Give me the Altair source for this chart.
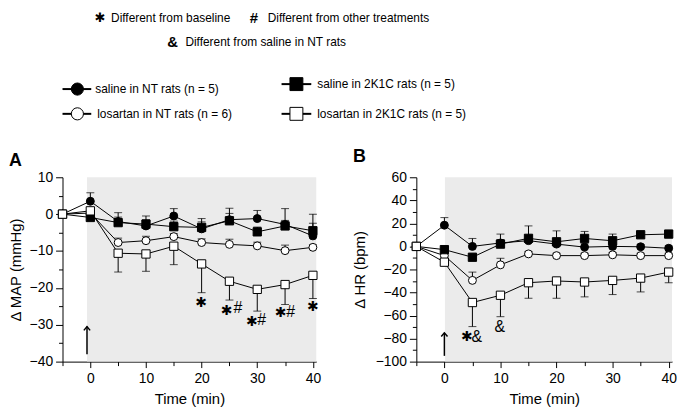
import altair as alt
import pandas as pd

FONT = "Liberation Sans"

# ---------------- data ----------------
times = [-5, 0, 5, 10, 15, 20, 25, 30, 35, 40]
series = ["saline in NT rats", "losartan in NT rats", "saline in 2K1C rats", "losartan in 2K1C rats"]
legend_labels = ["saline in NT rats (n = 5)", "losartan in NT rats (n = 6)",
                 "saline in 2K1C rats (n = 5)", "losartan in 2K1C rats (n = 5)"]
shapes = ["circle", "circle", "square", "square"]
fills = ["black", "white", "black", "white"]
err_dir = [1, 1, 1, -1]

# Panel A: delta MAP (mmHg)
map_saline_nt = [0, 3.5, -2.0, -3.2, -0.5, -4.0, -1.5, -1.2, -2.8, -5.9]
map_saline_nt_err = [0, 2.3, 2.4, 2.7, 2.0, 2.8, 3.1, 2.2, 4.3, 5.9]
map_losartan_nt = [0, 0.3, -7.7, -7.2, -6.1, -7.7, -8.2, -8.6, -9.9, -9.0]
map_losartan_nt_err = [0, 0.5, 1.2, 1.2, 0.8, 1.0, 1.4, 1.0, 1.5, 0.8]
map_saline_2k1c = [0, -0.9, -2.3, -2.7, -3.4, -3.6, -1.8, -4.8, -3.2, -4.5]
map_saline_2k1c_err = [0, 0.6, 1.5, 1.2, 1.5, 1.5, 2.0, 1.3, 1.5, 2.0]
map_losartan_2k1c = [0, 0.9, -10.6, -10.8, -8.7, -13.5, -18.2, -20.4, -19.1, -16.6]
map_losartan_2k1c_err = [0, 0.6, 5.1, 4.7, 5.0, 7.8, 5.1, 5.9, 5.4, 6.3]

# Panel B: delta HR (bpm)
hr_saline_nt = [0, 18.4, 0, 3.0, 5.0, 2.0, -0.6, 0.0, -0.3, -1.6]
hr_saline_nt_err = [0, 6.6, 6.9, 3.0, 3.0, 3.0, 3.0, 3.0, 2.0, 2.0]
hr_losartan_nt = [0, -8.0, -29.5, -16.0, -6.5, -8.0, -8.0, -7.3, -8.0, -8.0]
hr_losartan_nt_err = [0, 2.0, 7.2, 5.7, 2.0, 2.0, 2.0, 2.0, 2.0, 2.0]
hr_saline_2k1c = [0, -2.8, -9.4, 2.0, 7.0, 4.0, 6.9, 4.9, 10.1, 10.7]
hr_saline_2k1c_err = [0, 1.5, 2.0, 8.7, 10.8, 9.5, 6.1, 5.8, 2.0, 2.0]
hr_losartan_2k1c = [0, -13.7, -48.7, -42.4, -31.5, -30.0, -30.9, -29.5, -27.5, -22.3]
hr_losartan_2k1c_err = [0, 2.0, 20.9, 18.6, 13.5, 15.0, 12.9, 12.3, 12.0, 9.2]

# significance marks
map_star_t = [19.9, 24.5, 29.0, 34.2, 40.0]
map_star_y = [-24.0, -26.2, -29.3, -26.9, -25.1]
map_hash_t = [26.5, 30.8, 36.0]
map_hash_y = [-25.6, -28.7, -26.5]
hr_star_t = [4.0]
hr_star_y = [-78.8]
hr_amp_t = [5.8, 9.9]
hr_amp_y = [-78.3, -69.6]

# injection arrows (time, bottom, tip)
map_arrow = [-0.6, -38.0, -30.5]
hr_arrow = [0.0, -95.0, -75.0]

X_MAX = 40.6


def long_df(vals, errs):
    rows = []
    for i, name in enumerate(series):
        for t, v, e in zip(times, vals[i], errs[i]):
            rows.append(dict(t=t, v=v, end=v + err_dir[i] * e, err=e,
                             series=name, shape=shapes[i], fill=fills[i]))
    return pd.DataFrame(rows)


def panel(df, ydom, ystep, ymajor, ytitle, shade_start, arrow, stars, hashes, amps, w, h, title_pad):
    xs = alt.Scale(domain=[-5, X_MAX], nice=False, zero=False)
    ys = alt.Scale(domain=ydom, nice=False, zero=False)
    xaxis = alt.Axis(values=times, title="Time (min)",
                     labelExpr="datum.value % 10 == 0 ? datum.label : ''",
                     tickSize={"condition": {"test": "datum.value % 10 == 0", "value": 6}, "value": 4},
                     labelPadding=4, titlePadding=6)
    yvals = list(range(ydom[0], ydom[1] + 1, ystep))
    yaxis = alt.Axis(values=yvals, title=ytitle,
                     labelExpr=f"datum.value % {ymajor} == 0 ? datum.label : ''",
                     tickSize={"condition": {"test": f"datum.value % {ymajor} == 0", "value": 7}, "value": 4},
                     labelPadding=3, titlePadding=title_pad)

    def X(f):
        return alt.X(f, scale=xs, axis=xaxis)

    def Y(f):
        return alt.Y(f, scale=ys, axis=yaxis)

    bg = alt.Chart(pd.DataFrame({"x0": [shade_start], "x1": [X_MAX], "y0": [ydom[0]], "y1": [ydom[1]]})).mark_rect(
        color="#ebebeb").encode(x=X("x0:Q"), x2="x1:Q", y=Y("y0:Q"), y2="y1:Q")

    base = alt.Chart(df)
    lines = base.mark_line(color="black", strokeWidth=1).encode(
        x=X("t:Q"), y=Y("v:Q"), detail="series:N", order="t:Q")
    ebars = base.transform_filter("datum.err > 0").mark_rule(color="black", strokeWidth=1).encode(
        x=X("t:Q"), y=Y("v:Q"), y2="end:Q")
    caps = base.transform_filter("datum.err > 0").mark_tick(
        color="black", orient="horizontal", size=8, thickness=1).encode(x=X("t:Q"), y=Y("end:Q"))
    circ = base.transform_filter("datum.shape == 'circle'").mark_point(
        shape="circle", size=64, filled=True, stroke="black", strokeWidth=1, opacity=1).encode(
        x=X("t:Q"), y=Y("v:Q"), fill=alt.Fill("fill:N", scale=None))
    sq = base.transform_filter("datum.shape == 'square'").mark_point(
        shape="square", size=70, filled=True, stroke="black", strokeWidth=1, opacity=1).encode(
        x=X("t:Q"), y=Y("v:Q"), fill=alt.Fill("fill:N", scale=None))

    arr_df = pd.DataFrame({"t": [arrow[0]], "y0": [arrow[1]], "y1": [arrow[2]]})
    shaft = alt.Chart(arr_df).mark_rule(color="black", strokeWidth=1.5).encode(
        x=X("t:Q"), y=Y("y0:Q"), y2="y1:Q")
    head = alt.Chart(arr_df).mark_point(
        shape="M -1 1.2 L 0 0 L 1 1.2", size=40, filled=False, stroke="black", strokeWidth=1.5, opacity=1).encode(
        x=X("t:Q"), y=Y("y1:Q"))

    layers = [bg, lines, ebars, caps, circ, sq, shaft, head]
    if stars:
        sdf = pd.DataFrame({"t": stars[0], "y": stars[1], "g": ["\u2731"] * len(stars[0])})
        layers.append(alt.Chart(sdf).mark_text(font="DejaVu Sans", fontSize=14, color="black").encode(
            x=X("t:Q"), y=Y("y:Q"), text="g:N"))
    if hashes:
        hdf = pd.DataFrame({"t": hashes[0], "y": hashes[1], "g": ["#"] * len(hashes[0])})
        layers.append(alt.Chart(hdf).mark_text(font=FONT, fontSize=16, color="black").encode(
            x=X("t:Q"), y=Y("y:Q"), text="g:N"))
    if amps:
        adf = pd.DataFrame({"t": amps[0], "y": amps[1], "g": ["&"] * len(amps[0])})
        layers.append(alt.Chart(adf).mark_text(font=FONT, fontSize=16, color="black").encode(
            x=X("t:Q"), y=Y("y:Q"), text="g:N"))
    return alt.layer(*layers).properties(width=w, height=h)


map_df = long_df([map_saline_nt, map_losartan_nt, map_saline_2k1c, map_losartan_2k1c],
                 [map_saline_nt_err, map_losartan_nt_err, map_saline_2k1c_err, map_losartan_2k1c_err])
hr_df = long_df([hr_saline_nt, hr_losartan_nt, hr_saline_2k1c, hr_losartan_2k1c],
                [hr_saline_nt_err, hr_losartan_nt_err, hr_saline_2k1c_err, hr_losartan_2k1c_err])

pA = panel(map_df, [-40, 10], 5, 10, "\u0394 MAP (mmHg)", -0.6, map_arrow,
           (map_star_t, map_star_y), (map_hash_t, map_hash_y), None, 256, 186, 6)
pB = panel(hr_df, [-100, 60], 10, 20, "\u0394 HR (bpm)", 0.1, hr_arrow,
           (hr_star_t, hr_star_y), None, (hr_amp_t, hr_amp_y), 258, 186, 8)

# ---------------- top legend (pixel positions relative to panel A's plot origin) ----------------
note_sym = ["\u2731", "#", "&"]
note_text = ["Different from baseline", "Different from other treatments", "Different from saline in NT rats"]
note_sym_x = [38, 193, 111]
note_text_x = [49, 207, 124]
note_y = [8, 8, 33]

leg_line_x0 = [0, 0, 221, 221]
leg_line_x1 = [29, 29, 251, 251]
leg_sym_x = [15, 15, 236, 236]
leg_text_x = [33, 35, 257, 257]
leg_y = [80, 105, 75, 105]

panel_labels = ["A", "B"]
panel_label_x = [-54, 293]
panel_label_y = [153, 149]

sym_df = pd.DataFrame({"x": note_sym_x, "y": note_y, "g": note_sym})
txt_df = pd.DataFrame({"x": note_text_x, "y": note_y, "g": note_text})
leg_df = pd.DataFrame({"x0": leg_line_x0, "x1": leg_line_x1, "xs": leg_sym_x, "xt": leg_text_x,
                       "y": leg_y, "label": legend_labels, "shape": shapes, "fill": fills,
                       "size": [150, 150, 170, 170]})
pl_df = pd.DataFrame({"x": panel_label_x, "y": panel_label_y, "g": panel_labels})


def LX(f):
    return alt.X(f, scale=None, axis=None)


def LY(f):
    return alt.Y(f, scale=None, axis=None)


leg_star = alt.Chart(sym_df.iloc[[0]]).mark_text(font="DejaVu Sans", fontSize=13, color="black").encode(
    x=LX("x:Q"), y=LY("y:Q"), text="g:N")
leg_syms = alt.Chart(sym_df.iloc[[1, 2]]).mark_text(font=FONT, fontSize=15, fontWeight="bold", color="black").encode(
    x=LX("x:Q"), y=LY("y:Q"), text="g:N")
leg_txt = alt.Chart(txt_df).mark_text(font=FONT, fontSize=12, align="left", color="black").encode(
    x=LX("x:Q"), y=LY("y:Q"), text="g:N")
leg_lines = alt.Chart(leg_df).mark_rule(color="black", strokeWidth=2).encode(
    x=LX("x0:Q"), x2="x1:Q", y=LY("y:Q"))
leg_pts = alt.Chart(leg_df).mark_point(filled=True, stroke="black", strokeWidth=1, opacity=1).encode(
    x=LX("xs:Q"), y=LY("y:Q"), shape=alt.Shape("shape:N", scale=None),
    fill=alt.Fill("fill:N", scale=None), size=alt.Size("size:Q", scale=None))
leg_lbl = alt.Chart(leg_df).mark_text(font=FONT, fontSize=12, align="left", color="black").encode(
    x=LX("xt:Q"), y=LY("y:Q"), text="label:N")
plabels = alt.Chart(pl_df).mark_text(font=FONT, fontSize=18, fontWeight="bold", align="left",
                                     color="black").encode(x=LX("x:Q"), y=LY("y:Q"), text="g:N")

legend = alt.layer(leg_star, leg_syms, leg_txt, leg_lines, leg_pts, leg_lbl, plabels).properties(
    width=400, height=160)

chart = alt.vconcat(
    legend,
    alt.hconcat(pA, pB, spacing=31),
    spacing=0,
).properties(padding=0).configure_view(stroke=None).configure_axis(
    labelFont=FONT, titleFont=FONT, labelFontSize=14, titleFontSize=15,
    labelColor="black", titleColor="black", domainColor="black", tickColor="black",
    titleFontWeight="normal", grid=False, domainWidth=1, tickWidth=1
).configure_concat(spacing=0)

chart.save("out.html", embed_options={"renderer": "svg", "actions": False})
